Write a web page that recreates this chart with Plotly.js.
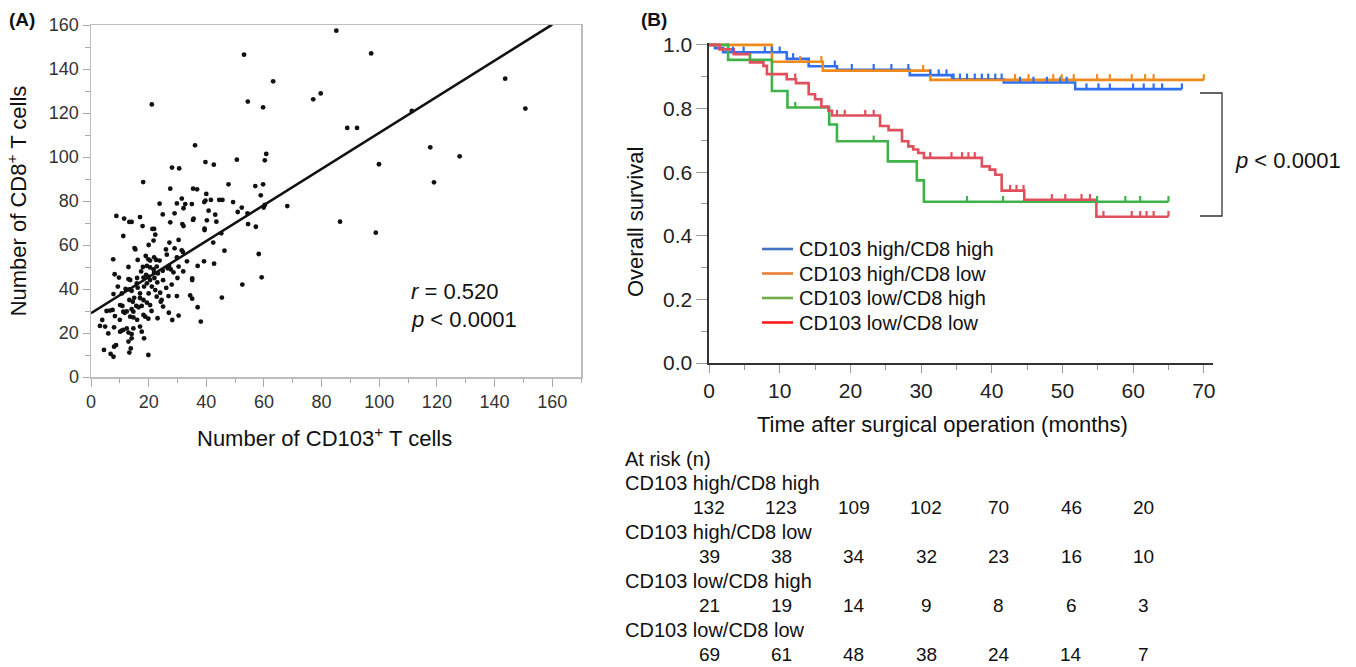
<!DOCTYPE html>
<html><head><meta charset="utf-8">
<script src="https://cdn.plot.ly/plotly-3.0.1.min.js"></script>
<style>html,body{margin:0;padding:0;background:#fff}#chart{width:1356px;height:667px}</style>
</head><body><div id="chart"></div>
<script>
// ---------- Panel A data ----------
const cd103 = [85.1,53.1,97.2,63.2,143.7,21.1,54.4,59.7,77.1,79.7,150.7,88.9,92.3,111.3,36.1,117.7,127.9,60.8,60.3,50.6,39.7,42.6,99.9,28.1,30.6,18.1,119,47.7,57,59.7,27.5,35.4,36.8,58.9,40,31.5,23.8,29.8,32.7,35,39.3,39.7,41.6,44.5,45.6,49.3,52.3,50.9,60.3,59.9,68.1,8.8,11.5,13.3,14.1,17,17.9,24.9,29,32.1,27.5,35.4,35.6,40.8,40.2,43.1,43.5,54.3,54.5,57.2,86.4,98.8,21.3,21.9,22.3,31.7,32.1,39.4,39.4,45.2,11.2,21.7,30.4,42.4,27.2,15.1,15.4,29,46.3,31.5,31.9,7.7,16.2,19.9,20.5,21.9,22.6,23.8,26.3,33.3,29.8,39.2,42.7,37,58.2,8.2,9.7,13,13.6,17.4,18.2,19.4,20.5,21.7,21.9,19.1,19.9,22.8,23.2,24.9,26.6,27.1,27.7,28.6,30.4,35.1,35.1,59.2,9.3,7.8,10.7,13.3,14.1,15.9,16.2,18.4,19.4,20.5,21.1,22.3,24,22.8,26.1,26.9,29.8,24.5,24.2,34.4,35.1,37,45.4,52.5,10.1,10.9,13.3,14.5,17,18.2,15.7,16.5,17.6,19.4,20.5,14.1,14.7,12.4,7.5,6.6,5.4,11.2,11.7,8.3,13.6,14.7,18.2,18.8,19.9,23.1,27,28.2,30.4,38.1,3.9,3.1,4.9,6,8,10.1,10.7,11.2,12.4,13,14.1,14.7,17,17.6,18.4,8.7,8,13,14.1,13.8,13.3,4.5,6.8,7.8,19.9,16,18,22,23,25,12,20,17,25,21,16,10,28,30,26,20,13,32,15,19];
const cd8 = [157.4,146.5,147.1,134.4,135.6,123.9,125.2,122.6,126.2,128.9,122,113.2,113.2,120.9,105.3,104.4,100.3,101.4,98.5,98.8,97.7,96.5,96.7,95.2,94.8,88.6,88.5,87.6,86.8,87.6,85.6,85.6,85.3,82.6,83.2,81.1,78.8,78.9,78.6,78.6,79.5,80.2,80.5,80.5,80.5,79.5,77,75,78.2,77,77.7,73.2,72,70.5,70.5,72.7,68.6,73.9,74.4,76.7,70.3,71.4,72,75.6,71.2,73.8,70.6,74.4,69.5,68.3,70.6,65.6,67.3,67.3,64.7,69.5,68.6,67.4,66.8,65.3,64.1,62,62.3,61.1,61.1,58.6,58,58.5,57.4,57.6,56.8,53.5,53.2,53.5,52.9,54.4,53.2,52.9,55.6,52.6,54.4,52.6,51.5,50.5,55.9,46.7,45.2,44.5,44.1,48,45.2,50.5,49.8,48.9,47.4,46.4,45.6,50.2,47.1,48.3,49.4,50.5,48.9,47.6,50.2,44.8,44.1,45.3,41.1,37.7,38,39.8,39.2,42.6,40.6,41.1,42.6,44.1,41.1,39.5,38.3,36.5,40.5,36.8,36.8,35,34.2,37.1,35.6,31.7,36.1,42,32.7,32.3,35,34.2,35.9,35,32.3,31.7,32.3,33.8,32.7,30.8,29.7,29.8,30.5,30.2,30,29.7,29.2,27.7,27.4,27.1,28.2,27.4,26.5,26.7,29.2,25.9,27.9,25.2,25.9,23.2,22.9,19.8,22.6,20.6,21.1,21.4,22.1,20.2,19.5,22.1,22.9,20.6,17.6,14.5,13.8,16.1,17.6,13,11.1,12.3,10.5,9.2,10,45,50,45,43,44,40,38,38,32,30,26,26,42,45,58,60,50,48,36,55];
const fitIntercept = 29;
const fitSlope = 0.82;
const fitX = [0, 160];
const corrText = 'r = 0.520';
const pText = 'p < 0.0001';

// ---------- Panel B data ----------
const groupNames = ['CD103 high/CD8 high','CD103 high/CD8 low','CD103 low/CD8 high','CD103 low/CD8 low'];
const curveColors = ['#2f6ff0','#f08a1c','#3fb24a','#e0505c'];
const legendColors = ['#4472c4','#ed7d31','#70ad47','#ff1a1a'];

const hhTimes = [0,0.85,2.0,11.0,14.1,18.1,28.4,34.4,41.7,51.8];
const hhSurv  = [1,0.990,0.977,0.956,0.933,0.922,0.905,0.892,0.882,0.861];
const hhEnd = 66.9;
const hhCens = [3.4,4.9,7.9,8.9,10.0,11.9,17.8,20.2,23.3,25.8,28.2,31.3,32.5,33.6,34.6,35.5,36.5,37.6,38.6,39.5,40.5,41.4,44.0,45.9,47.8,49.7,50.6,53.4,55.1,56.7,60.0,61.5,62.9,64.1,66.9];

const hlTimes = [0,8.9,16.1,31.3];
const hlSurv  = [1,0.947,0.919,0.890];
const hlEnd = 70.0;
const hlCens = [12.9,15.9,30.3,43.3,45.2,48.7,49.9,51.6,54.9,56.7,59.8,61.7,62.9,70.0];

const lhTimes = [0,2.7,8.9,11.1,17.0,18.1,25.3,29.4,30.4];
const lhSurv  = [1,0.953,0.855,0.803,0.750,0.697,0.634,0.574,0.507];
const lhEnd = 65.0;
const lhCens = [5.8,12.2,23.3,36.5,41.6,54.9,58.9,61.0,65.0];

const llTimes = [0,1.5,3.5,5.8,7.7,8.2,11.0,12.3,14.1,15.0,15.9,16.9,17.4,24.2,25.4,27.3,28.2,28.9,29.6,30.4,38.6,39.7,40.5,41.4,44.6,54.8];
const llSurv  = [1,0.986,0.971,0.945,0.934,0.908,0.892,0.880,0.845,0.829,0.806,0.793,0.778,0.745,0.732,0.697,0.681,0.671,0.660,0.645,0.618,0.608,0.592,0.542,0.513,0.460];
const llEnd = 65.0;
const llCens = [12.2,18.1,19.2,22.1,23.3,31.3,34.3,35.8,36.7,37.6,42.6,43.5,44.5,48.5,50.4,52.7,53.9,55.8,59.8,61.0,61.9,62.9,65.0];

const riskTimes = [0,10,20,30,40,50,60];
const riskHH = [132,123,109,102,70,46,20];
const riskHL = [39,38,34,32,23,16,10];
const riskLH = [21,19,14,9,8,6,3];
const riskLL = [69,61,48,38,24,14,7];
const curvePValue = 'p < 0.0001';

// ---------- helpers ----------
const W = 1356, H = 667;
const px = x => x / W;
const py = y => 1 - y / H;
const FONT = 'Liberation Sans, Arial, sans-serif';
const italicP = s => s.replace('<', '&lt;').replace(/^([rp])\b/, '<i>$1</i>');

function stepTrace(times, surv, end, name, color) {
  return {x: times.concat([end]), y: surv.concat([surv[surv.length-1]]),
    type: 'scatter', mode: 'lines', line: {shape: 'hv', color: color, width: 2.6},
    name: name, showlegend: false, xaxis: 'x2', yaxis: 'y2', hoverinfo: 'skip'};
}
function censTrace(times, surv, cens, color) {
  const xs = [], ys = [];
  cens.forEach(c => {
    let s = surv[0];
    for (let i = 0; i < times.length; i++) if (times[i] <= c) s = surv[i];
    xs.push(c, c, null); ys.push(s, s + 0.018, null);
  });
  return {x: xs, y: ys, type: 'scatter', mode: 'lines', line: {color: color, width: 2.2},
    showlegend: false, xaxis: 'x2', yaxis: 'y2', hoverinfo: 'skip'};
}

const traces = [
  {x: cd103, y: cd8, type: 'scatter', mode: 'markers', marker: {color: '#111', size: 4.8},
   showlegend: false, xaxis: 'x', yaxis: 'y', hoverinfo: 'skip'},
  {x: fitX, y: fitX.map(v => fitIntercept + fitSlope * v), type: 'scatter', mode: 'lines',
   line: {color: '#111', width: 2.6}, showlegend: false, xaxis: 'x', yaxis: 'y', hoverinfo: 'skip'},
  stepTrace(hhTimes, hhSurv, hhEnd, groupNames[0], curveColors[0]),
  stepTrace(hlTimes, hlSurv, hlEnd, groupNames[1], curveColors[1]),
  stepTrace(lhTimes, lhSurv, lhEnd, groupNames[2], curveColors[2]),
  stepTrace(llTimes, llSurv, llEnd, groupNames[3], curveColors[3]),
  censTrace(hhTimes, hhSurv, hhCens, curveColors[0]),
  censTrace(hlTimes, hlSurv, hlCens, curveColors[1]),
  censTrace(lhTimes, lhSurv, lhCens, curveColors[2]),
  censTrace(llTimes, llSurv, llCens, curveColors[3])
];

function txt(text, x, y, size, anchor, extra) {
  return Object.assign({text: text, x: px(x), y: py(y), xref: 'paper', yref: 'paper', xanchor: anchor || 'left', yanchor: 'middle',
    showarrow: false, font: {size: size, color: '#111', family: FONT}}, extra || {});
}

const annotations = [
  txt('<b>(A)</b>', 7, 19, 19),
  txt('<b>(B)</b>', 639, 19, 19),
  txt(italicP(corrText), 409, 291, 22),
  txt(italicP(pText), 409, 319, 22),
  txt(italicP(curvePValue), 1233, 160, 22),
  txt('Number of CD103<sup>+</sup> T cells', 324, 437, 22, 'center'),
  txt('Time after surgical operation (months)', 942, 425, 22, 'center'),
  txt('Overall survival', 636, 222, 22, 'center', {textangle: -90}),
  txt('At risk (n)', 623, 459, 20)
];
const shapes = [
  {type: 'path', xref: 'paper', yref: 'paper', line: {color: '#333', width: 1.3},
   path: `M ${px(1200)} ${py(93)} L ${px(1222)} ${py(93)} L ${px(1222)} ${py(216)} L ${px(1200)} ${py(216)}`}
];
// manual legend
groupNames.forEach((g, i) => {
  const yy = 249 + i * 24.5;
  shapes.push({type: 'line', xref: 'paper', yref: 'paper', x0: px(762), x1: px(793), y0: py(yy), y1: py(yy),
    line: {color: legendColors[i], width: 2.6}});
  annotations.push(txt(g, 797, yy, 20));
});
// at-risk table
const riskRows = [riskHH, riskHL, riskLH, riskLL];
riskRows.forEach((row, g) => {
  const yLab = 483 + g * 49;
  annotations.push(txt(groupNames[g], 623, yLab, 20));
  row.forEach((n, i) => {
    annotations.push({text: String(n), x: riskTimes[i] * 1.025, y: py(yLab + 24.5), xref: 'x2', yref: 'paper',
      xanchor: 'center', yanchor: 'middle', showarrow: false, font: {size: 19, color: '#111', family: FONT}});
  });
});

const layout = {
  width: W, height: H, margin: {l: 0, r: 0, t: 0, b: 0}, paper_bgcolor: '#fff', plot_bgcolor: '#fff',
  font: {family: FONT, color: '#111'},
  showlegend: false,
  xaxis: {domain: [px(91), px(581)], range: [0, 170], tick0: 0, dtick: 20, anchor: 'y',
    showline: true, mirror: true, linecolor: '#bdbdbd', linewidth: 1.5, ticks: 'outside', ticklen: 8, tickcolor: '#aaa',
    minor: {dtick: 10, ticks: 'outside', ticklen: 4, tickcolor: '#aaa'},
    showgrid: false, zeroline: false, tickfont: {size: 18, color: '#333'}, automargin: false},
  yaxis: {domain: [py(377), py(25)], range: [0, 160], tick0: 0, dtick: 20, anchor: 'x',
    showline: true, mirror: true, linecolor: '#bdbdbd', linewidth: 1.5, ticks: 'outside', ticklen: 7, tickcolor: '#aaa',
    minor: {dtick: 10, ticks: 'outside', ticklen: 5, tickcolor: '#aaa'},
    showgrid: false, zeroline: false, tickfont: {size: 18, color: '#333'}, automargin: false,
    title: {text: 'Number of CD8<sup>+</sup> T cells', font: {size: 22, color: '#111'}, standoff: 16}},
  xaxis2: {domain: [px(709), px(1213)], range: [0, 71.3], tick0: 0, dtick: 10, anchor: 'y2',
    showline: true, linecolor: '#333', linewidth: 1.6, ticks: 'outside', ticklen: 8, tickcolor: '#999',
    minor: {dtick: 5, ticks: 'outside', ticklen: 5, tickcolor: '#999'},
    showgrid: false, zeroline: false, tickfont: {size: 21, color: '#222'}, automargin: false},
  yaxis2: {domain: [py(363), py(43)], range: [0, 1.006], tick0: 0, dtick: 0.2, tickformat: '.1f', anchor: 'x2',
    showline: true, linecolor: '#333', linewidth: 1.6, ticks: 'outside', ticklen: 11, tickcolor: '#999',
    minor: {dtick: 0.1, ticks: 'outside', ticklen: 6, tickcolor: '#999'},
    showgrid: false, zeroline: false, tickfont: {size: 21, color: '#222'}, automargin: false},
  annotations: annotations,
  shapes: shapes
};

Plotly.newPlot('chart', traces, layout, {displayModeBar: false, staticPlot: true});
</script>
</body></html>
